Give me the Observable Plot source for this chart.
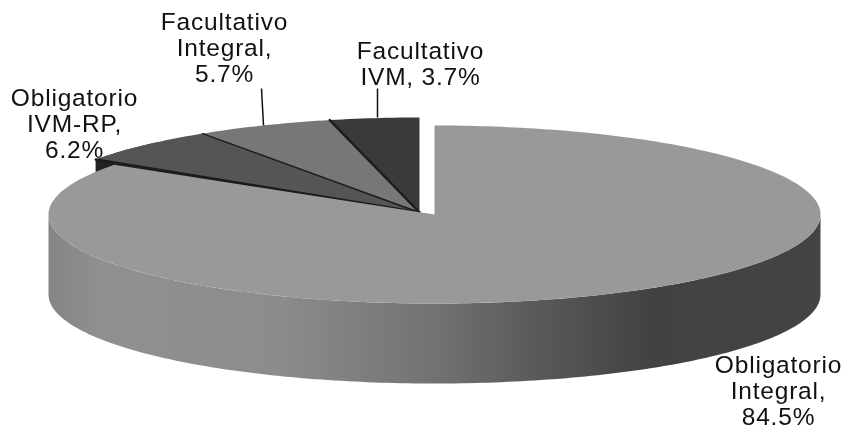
<!DOCTYPE html>
<html>
<head>
<meta charset="utf-8">
<script src="https://cdn.jsdelivr.net/npm/d3@7"></script>
<script src="https://cdn.jsdelivr.net/npm/@observablehq/plot@0.6"></script>
<style>html,body{margin:0;padding:0;background:#fff}svg{display:block;filter:blur(0.4px)}</style>
</head>
<body>
<div id="chart"></div>
<script>
// Data
const categories = ["Obligatorio Integral", "Obligatorio IVM-RP", "Facultativo Integral", "Facultativo IVM"];
const shares = [84.5, 6.2, 5.7, 3.7];
const labels = ["Obligatorio\nIntegral,\n84.5%", "Obligatorio\nIVM-RP,\n6.2%", "Facultativo\nIntegral,\n5.7%", "Facultativo\nIVM, 3.7%"];

// Styling and layout
const faceColors = ["#999999", "#555555", "#777777", "#3a3a3a"];
const W = 844, H = 430;
const depth = 80;
const bigCentre = {x: 434, y: 214, rx: 386, ry: 89};
const restCentre = {x: 419, y: 212, rx: 390, ry: 95};
const labelSpots = [[778, 390], [74, 123], [224, 47], [420, 63]];
const leaders = [
  {x1: 261, y1: 88, x2: 263, y2: 125},
  {x1: 377, y1: 88, x2: 377, y2: 117}
];
const wallStops = [[0, "#858585"], [0.07, "#909090"], [0.3, "#8c8c8c"], [0.5, "#727272"], [0.64, "#585858"], [0.78, "#424242"], [1, "#444444"]];

// Angles from the values (clockwise from twelve o'clock)
const total = d3.sum(shares);
let cumulative = 0;
const slices = shares.map((v, i) => {
  const start = cumulative / total * 360;
  cumulative += v;
  return {i, name: categories[i], start, end: cumulative / total * 360, centre: i === 0 ? bigCentre : restCentre};
});
const rim = (c, deg, dy = 0) => {
  const a = deg * Math.PI / 180;
  return {x: c.x + c.rx * Math.sin(a), y: c.y - c.ry * Math.cos(a) + dy};
};
const arc = (c, a, b, dy = 0) => {
  const n = Math.max(2, Math.ceil(Math.abs(b - a)));
  return d3.range(n + 1).map(k => rim(c, a + (b - a) * k / n, dy));
};
const face = s => [{x: s.centre.x, y: s.centre.y}, ...arc(s.centre, s.start, s.end)];
const wall = (c, a, b) => [...arc(c, a, b), ...arc(c, b, a, depth)];

const defs = () => {
  const d = d3.create("svg:defs");
  const g = d.append("linearGradient").attr("id", "wallShade")
    .attr("gradientUnits", "objectBoundingBox").attr("x1", 0).attr("x2", 1).attr("y1", 0).attr("y2", 0);
  wallStops.forEach(([o, c]) => g.append("stop").attr("offset", o).attr("stop-color", c));
  return d.node();
};

const [big, ...rest] = slices;
const cut = rest[0];
const cutRim = rim(restCentre, cut.start);
const plot = Plot.plot({
  width: W, height: H,
  margin: 0,
  x: {domain: [0, W], range: [0, W], axis: null},
  y: {domain: [0, H], range: [0, H], axis: null},
  style: {background: "#fff", letterSpacing: "0.8px"},
  marks: [
    defs,
    // side wall peeking out behind the big slice on the left
    Plot.line(wall(restCentre, cut.start, cut.start + 14), {x: "x", y: "y", fill: "#2e2e2e", stroke: "none"}),
    // inner cut face of the rear slices, filling the seam above the big slice
    Plot.line([{x: restCentre.x, y: restCentre.y}, cutRim, {x: cutRim.x, y: cutRim.y + depth}, {x: restCentre.x, y: restCentre.y + depth}],
      {x: "x", y: "y", fill: "#222222", stroke: "none"}),
    // side wall of the big slice
    Plot.line(wall(bigCentre, 90, 270), {x: "x", y: "y", fill: "url(#wallShade)", stroke: "none"}),
    // rear slices
    ...rest.map(s => Plot.line(face(s), {x: "x", y: "y", fill: faceColors[s.i], stroke: "none"})),
    // dark radial edges between rear slices
    ...rest.map((s, k) => Plot.line([{x: s.centre.x, y: s.centre.y}, rim(s.centre, s.start)],
      {x: "x", y: "y", stroke: "#1c1c1c", strokeWidth: k === 1 ? 1.4 : 2.4})),
    // big slice top face
    Plot.line(face(big), {x: "x", y: "y", fill: faceColors[0], stroke: "none"}),
    // leader lines
    Plot.link(leaders, {x1: "x1", y1: "y1", x2: "x2", y2: "y2", stroke: "#111", strokeWidth: 1.5}),
    // labels
    Plot.text(labels.map((t, i) => ({t, x: labelSpots[i][0], y: labelSpots[i][1]})), {
      x: "x", y: "y", text: "t", textAnchor: "middle", lineAnchor: "middle", lineHeight: 1.08,
      fontFamily: "Liberation Sans", fontSize: 24.5, fill: "#111"
    })
  ]
});
document.getElementById("chart").append(plot);
</script>
</body>
</html>
